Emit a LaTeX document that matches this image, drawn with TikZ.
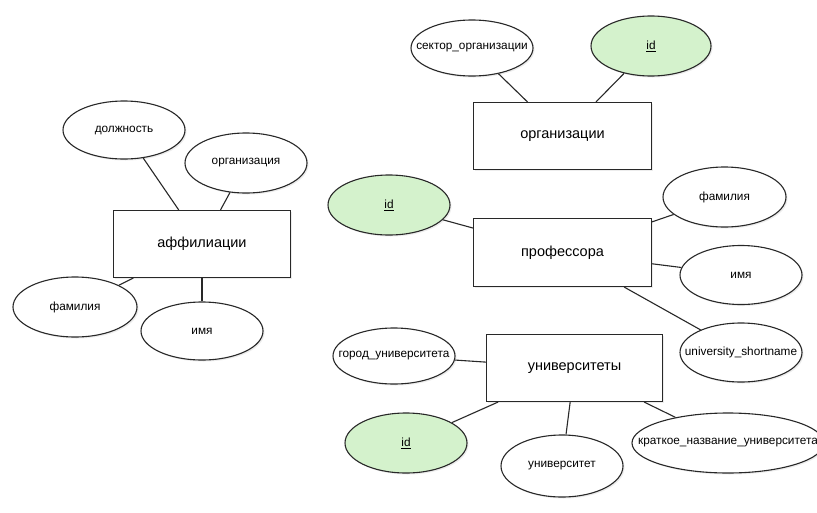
\documentclass[tikz,border=0pt]{standalone}
\usepackage{fontspec}
\setmainfont{Liberation Sans}
\usetikzlibrary{shapes.geometric,shadows}
\definecolor{keygreen}{RGB}{212,242,204}
\definecolor{linegray}{RGB}{40,40,40}
\newcommand{\attrtext}[1]{\makebox[0pt][c]{#1}}
\tikzset{
  entity/.style={draw=linegray, line width=1.1pt, fill=white, rectangle, inner sep=0pt,
    font=\fontsize{14.5}{16}\selectfont,
    drop shadow={shadow xshift=1.5pt, shadow yshift=-1.5pt, opacity=0.15}},
  attr/.style={draw=linegray, line width=1.1pt, fill=white, ellipse, inner sep=0pt,
    font=\fontsize{11.8}{13}\selectfont,
    drop shadow={shadow xshift=1.5pt, shadow yshift=-1.5pt, opacity=0.15}},
  keyattr/.style={attr, fill=keygreen},
  link/.style={draw=linegray, line width=1.1pt}
}
\begin{document}
\begin{tikzpicture}[x=1pt,y=-1pt]
\fill[white] (0,0) rectangle (817,512);
\path[use as bounding box, clip] (0,0) rectangle (817,512);

% affiliations
\node[entity, minimum width=177pt, minimum height=67pt] (aff) at (202,244) {аффилиации};
\node[attr, minimum width=122pt, minimum height=58pt] (dolzh) at (124,130) {\attrtext{должность}};
\node[attr, minimum width=122pt, minimum height=60pt] (orgz) at (246,163) {\attrtext{организация}};
\node[attr, minimum width=124pt, minimum height=60pt] (fam1) at (75,307) {\attrtext{фамилия}};
\node[attr, minimum width=122pt, minimum height=58pt] (imya1) at (202,331) {\attrtext{имя}};

% organizations
\node[entity, minimum width=178pt, minimum height=67pt] (org) at (562.5,136) {организации};
\node[attr, minimum width=122pt, minimum height=56pt] (sektor) at (472,48) {\attrtext{сектор\_организации}};
\node[keyattr, minimum width=120pt, minimum height=60pt] (orgid) at (651,46) {\attrtext{\underline{id}}};

% professors
\node[entity, minimum width=178pt, minimum height=68pt] (prof) at (562.5,252.5) {профессора};
\node[keyattr, minimum width=122pt, minimum height=60pt] (profid) at (389,205) {\attrtext{\underline{id}}};
\node[attr, minimum width=123pt, minimum height=60pt] (fam2) at (724.5,197) {\attrtext{фамилия}};
\node[attr, minimum width=122pt, minimum height=59pt] (imya2) at (741,275) {\attrtext{имя}};
\node[attr, minimum width=122pt, minimum height=59pt] (ushort) at (741,352.5) {\attrtext{university\_shortname}};

% universities
\node[entity, minimum width=176pt, minimum height=67pt] (univ) at (574.5,368) {университеты};
\node[attr, minimum width=122pt, minimum height=56pt] (gorod) at (394,356) {\attrtext{город\_университета}};
\node[keyattr, minimum width=122pt, minimum height=60pt] (univid) at (406,443) {\attrtext{\underline{id}}};
\node[attr, minimum width=122pt, minimum height=62pt] (universitet) at (562,466) {\attrtext{университет}};
\node[attr, minimum width=192pt, minimum height=60pt] (kratkoe) at (728,443) {\attrtext{краткое\_название\_университета}};

% connectors
\draw[link] (dolzh) -- (aff);
\draw[link] (orgz) -- (aff);
\draw[link] (fam1) -- (aff);
\draw[link] (imya1) -- (aff);
\draw[link] (sektor) -- (org);
\draw[link] (orgid) -- (org);
\draw[link] (profid) -- (prof);
\draw[link] (fam2) -- (prof);
\draw[link] (imya2) -- (prof);
\draw[link] (ushort) -- (prof);
\draw[link] (gorod) -- (univ);
\draw[link] (univid) -- (univ);
\draw[link] (universitet) -- (univ);
\draw[link] (kratkoe) -- (univ);
\end{tikzpicture}
\end{document}
